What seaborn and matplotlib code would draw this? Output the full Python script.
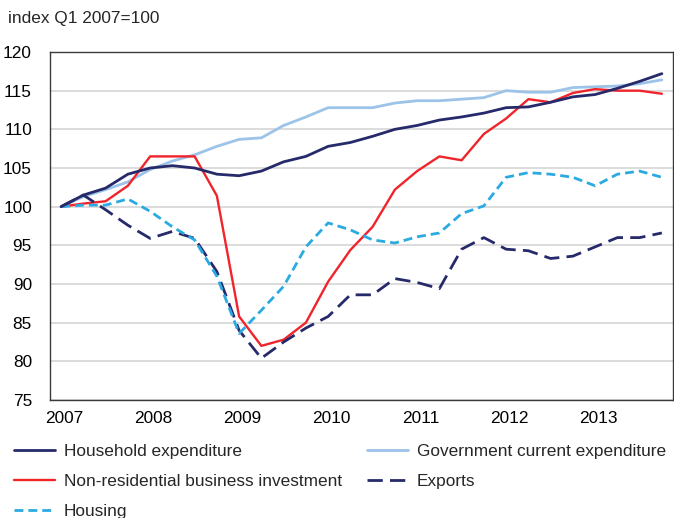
import numpy as np
import pandas as pd
import matplotlib
matplotlib.use("Agg")
import matplotlib.pyplot as plt
import seaborn as sns

# quarterly data, Q1 2007 .. Q4 2013 (index Q1 2007 = 100)
years = ["2007", "2008", "2009", "2010", "2011", "2012", "2013"]

household = [100.0, 101.5, 102.4, 104.2, 105.0, 105.3, 105.0, 104.2,
             104.0, 104.6, 105.8, 106.5, 107.8, 108.3, 109.1, 110.0,
             110.5, 111.2, 111.6, 112.1, 112.8, 112.9, 113.5, 114.2,
             114.5, 115.3, 116.2, 117.2]
government = [100.0, 101.3, 102.2, 103.2, 104.8, 105.9, 106.7, 107.8,
              108.7, 108.9, 110.5, 111.6, 112.8, 112.8, 112.8, 113.4,
              113.7, 113.7, 113.9, 114.1, 115.0, 114.8, 114.8, 115.4,
              115.5, 115.6, 115.9, 116.4]
business_inv = [100.0, 100.4, 100.7, 102.7, 106.5, 106.5, 106.5, 101.4,
                85.8, 82.0, 82.8, 85.0, 90.3, 94.4, 97.4, 102.2,
                104.6, 106.5, 106.0, 109.4, 111.4, 113.9, 113.5, 114.7,
                115.2, 115.0, 115.0, 114.6]
exports = [100.0, 101.5, 99.6, 97.6, 95.9, 96.8, 95.9, 91.6,
           84.0, 80.4, 82.5, 84.3, 85.8, 88.6, 88.6, 90.7,
           90.2, 89.4, 94.5, 96.0, 94.5, 94.3, 93.3, 93.6,
           94.8, 96.0, 96.0, 96.6]
housing = [100.0, 100.2, 100.2, 101.0, 99.4, 97.4, 95.7, 91.0,
           83.6, 86.6, 89.7, 94.8, 97.9, 97.0, 95.7, 95.3,
           96.1, 96.6, 99.1, 100.1, 103.8, 104.4, 104.2, 103.8,
           102.7, 104.2, 104.6, 103.8]

labels = ["Household expenditure", "Government current expenditure",
          "Non-residential business investment", "Exports", "Housing"]
series = [household, government, business_inv, exports, housing]

q = np.arange(len(household))
df = pd.DataFrame({lab: vals for lab, vals in zip(labels, series)})
df["q"] = q

colors = ["#262A6B", "#9CC3E8", "#F0242A", "#262A6B", "#2AAAE1"]
dashes = [None, None, None, (5.5, 2.6), (3.2, 1.8)]
widths = [2.0, 2.0, 1.7, 2.0, 2.0]

sns.set_style("white")
plt.rcParams["font.family"] = ["Liberation Sans", "DejaVu Sans"]
FS = 12.4

fig = plt.figure(figsize=(6.74, 5.18), dpi=100)
ax = fig.add_axes([50 / 674, 1 - 400 / 518, 623 / 674, 348 / 518])

lines = []
for lab, c, d, w in zip(labels, colors, dashes, widths):
    sns.lineplot(data=df, x="q", y=lab, color=c, linewidth=w, ax=ax)
    ln = ax.get_lines()[-1]
    if d is not None:
        ln.set_dashes(d)
    ln.set_label(lab)
    ln.set_zorder(3)
    lines.append(ln)
lines[0].set_zorder(4)
if ax.get_legend() is not None:
    ax.get_legend().remove()

ax.set_xlim(-0.5, 27.5)
ax.set_ylim(75, 120)
ax.set_yticks(np.arange(75, 121, 5))
ax.set_xticks(np.arange(0, 28, 4) + 0.15)
ax.set_xticklabels(years)
ax.set_xlabel("")
ax.set_ylabel("")
ax.tick_params(axis="both", length=0, labelsize=FS, colors="black")
ax.tick_params(axis="y", pad=13)
ax.tick_params(axis="x", pad=8)

ax.yaxis.grid(True, color="#D9D9D9", linewidth=1.3)
ax.xaxis.grid(False)
ax.set_axisbelow(True)
for sp in ax.spines.values():
    sp.set_visible(True)
    sp.set_color("#3A3A3A")
    sp.set_linewidth(1.0)

fig.text(8 / 674, 1 - 18 / 518, "index Q1 2007=100", fontsize=FS,
         va="center", ha="left")

# matplotlib fills legend columns first: reorder so rows read like the original
order = [0, 2, 4, 1, 3]
fig.legend(handles=[lines[i] for i in order],
           labels=[labels[i] for i in order], ncol=2, frameon=False,
           loc="upper left", bbox_to_anchor=(14 / 674, 1 - 444 / 518),
           fontsize=FS, handlelength=2.4, handletextpad=0.5,
           columnspacing=1.45, labelspacing=0.88, borderpad=0,
           borderaxespad=0)

fig.savefig("out.png", dpi=100)
